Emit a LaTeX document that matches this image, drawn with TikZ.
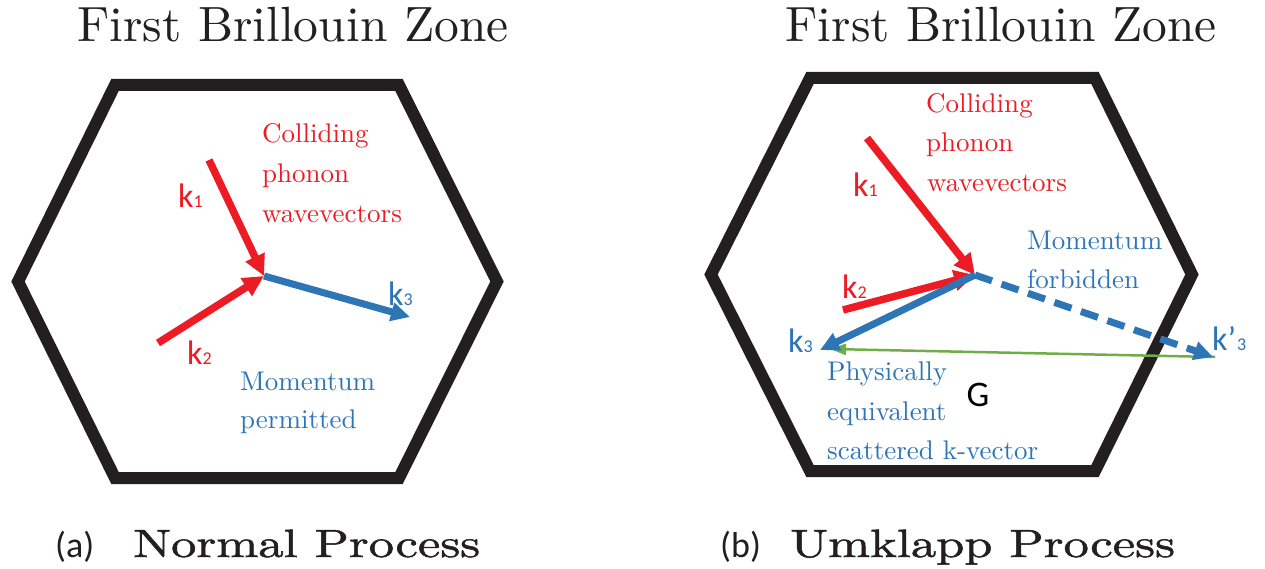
\documentclass[tikz,border=0pt]{standalone}
\usepackage{fontspec}
\newfontfamily\calib{Carlito}
\newfontfamily\tenrm{lmroman10-regular.otf}
\newfontfamily\capfont[FakeStretch=1.28,FakeBold=1.3]{lmroman10-regular.otf}
\usetikzlibrary{arrows.meta}
\definecolor{hexblack}{HTML}{231F20}
\definecolor{kred}{HTML}{ED1C24}
\definecolor{kblue}{HTML}{2E75B6}
\definecolor{kgreen}{HTML}{70AD47}
\newcommand{\kvec}[1]{k{\fontsize{18}{20}\selectfont #1}}
\tikzset{
  hexa/.style={draw=hexblack, line width=12pt, line join=miter},
  redvec/.style={draw=kred, line width=7.5pt, -{Triangle[length=21pt,width=20pt]}},
  bluevec/.style={draw=kblue, line width=7pt, -{Triangle[length=19pt,width=18pt]}},
  dashvec/.style={bluevec, dash pattern=on 18pt off 10pt},
  gvec/.style={draw=kgreen, line width=2.5pt, -{Triangle[length=16pt,width=11pt]}},
  titletxt/.style={font=\tenrm\fontsize{49.5}{56}\selectfont, text=hexblack, inner sep=0pt, anchor=base},
  redtxt/.style={font=\tenrm\fontsize{27}{32}\selectfont, text=kred, inner sep=0pt, anchor=base west},
  bluetxt/.style={font=\tenrm\fontsize{27}{32}\selectfont, text=kblue, inner sep=0pt, anchor=base west},
  klab/.style={font=\calib\fontsize{34}{40}\selectfont, inner sep=0pt, anchor=base west},
  captag/.style={font=\calib\fontsize{36}{40}\selectfont, text=hexblack, inner sep=0pt, anchor=base west},
  captxt/.style={font=\capfont\fontsize{39.5}{42}\selectfont, text=hexblack, inner sep=0pt, anchor=base west}
}
\begin{document}
\begin{tikzpicture}[x=1pt,y=-1pt]
\useasboundingbox[fill=white] (0,0) rectangle (1265,569);

% titles
\node[titletxt] (t1) at (293,42) {First Brillouin Zone};
\node[titletxt] (t2) at (1001,42) {First Brillouin Zone};

% hexagons
\draw[hexa] (115,85) -- (399,85) -- (497,281.5) -- (399,478) -- (115,478) -- (18,281.5) -- cycle;
\draw[hexa] (810,78) -- (1095,78) -- (1192,274.5) -- (1095,471) -- (810,471) -- (711,274.5) -- cycle;

% ---------- (a) normal process ----------
\coordinate (a1) at (209,160);
\coordinate (a2) at (158,343);
\coordinate (ao) at (264,276);
\coordinate (a3) at (410,317);
\draw[bluevec] (ao) -- (a3);
\draw[redvec] (a1) -- (ao);
\draw[redvec] (a2) -- (ao);

\node[klab, text=kred] (ak1) at (178,208) {\kvec{1}};
\node[klab, text=kred] (ak2) at (187,364) {\kvec{2}};
\node[klab, text=kblue] (ak3) at (388,305) {\kvec{3}};

\node[redtxt] (ac1) at (262,143) {Colliding};
\node[redtxt] (ac2) at (262,183) {phonon};
\node[redtxt] (ac3) at (262,223) {wavevectors};
\node[bluetxt] (am1) at (240,390) {Momentum};
\node[bluetxt] (am2) at (240,428) {permitted};

% ---------- (b) umklapp process ----------
\coordinate (b1) at (867,138);
\coordinate (b2) at (843,310);
\coordinate (bo) at (975,275);
\coordinate (b3) at (820,350);
\coordinate (b4) at (1213,357);
\coordinate (gs) at (1215,357);
\coordinate (ge) at (830,349);
\draw[redvec] (b1) -- (bo);
\draw[redvec] (b2) -- (bo);
\draw[gvec] (gs) -- (ge);
\draw[bluevec] (bo) -- (b3);
\draw[dashvec] (bo) -- (b4);

\node[klab, text=kred] (bk1) at (853,197) {\kvec{1}};
\node[klab, text=kred] (bk2) at (842,298) {\kvec{2}};
\node[klab, text=kblue] (bk3) at (788,352) {\kvec{3}};
\node[klab, text=kblue] (bk4) at (1212,350) {k’\kern1pt{\fontsize{18}{20}\selectfont 3}};
\node[font=\calib\fontsize{36}{40}\selectfont, text=black, inner sep=0pt] (gl) at (978,395) {G};

\node[redtxt] (bc1) at (926,113) {Colliding};
\node[redtxt] (bc2) at (926,152) {phonon};
\node[redtxt] (bc3) at (927,192) {wavevectors};
\node[bluetxt] (bm1) at (1027,249) {Momentum};
\node[bluetxt] (bm2) at (1027,288) {forbidden};
\node[bluetxt] (bp1) at (827,380) {Physically};
\node[bluetxt] (bp2) at (827,420) {equivalent};
\node[bluetxt] (bp3) at (827,459) {scattered k-vector};

% captions
\node[captag] (ca) at (55,557) {(a)};
\node[captxt] (cn) at (133,557) {Normal Process};
\node[captag] (cb) at (720,557) {(b)};
\node[captxt] (cu) at (790,557) {Umklapp Process};
\end{tikzpicture}
\end{document}
